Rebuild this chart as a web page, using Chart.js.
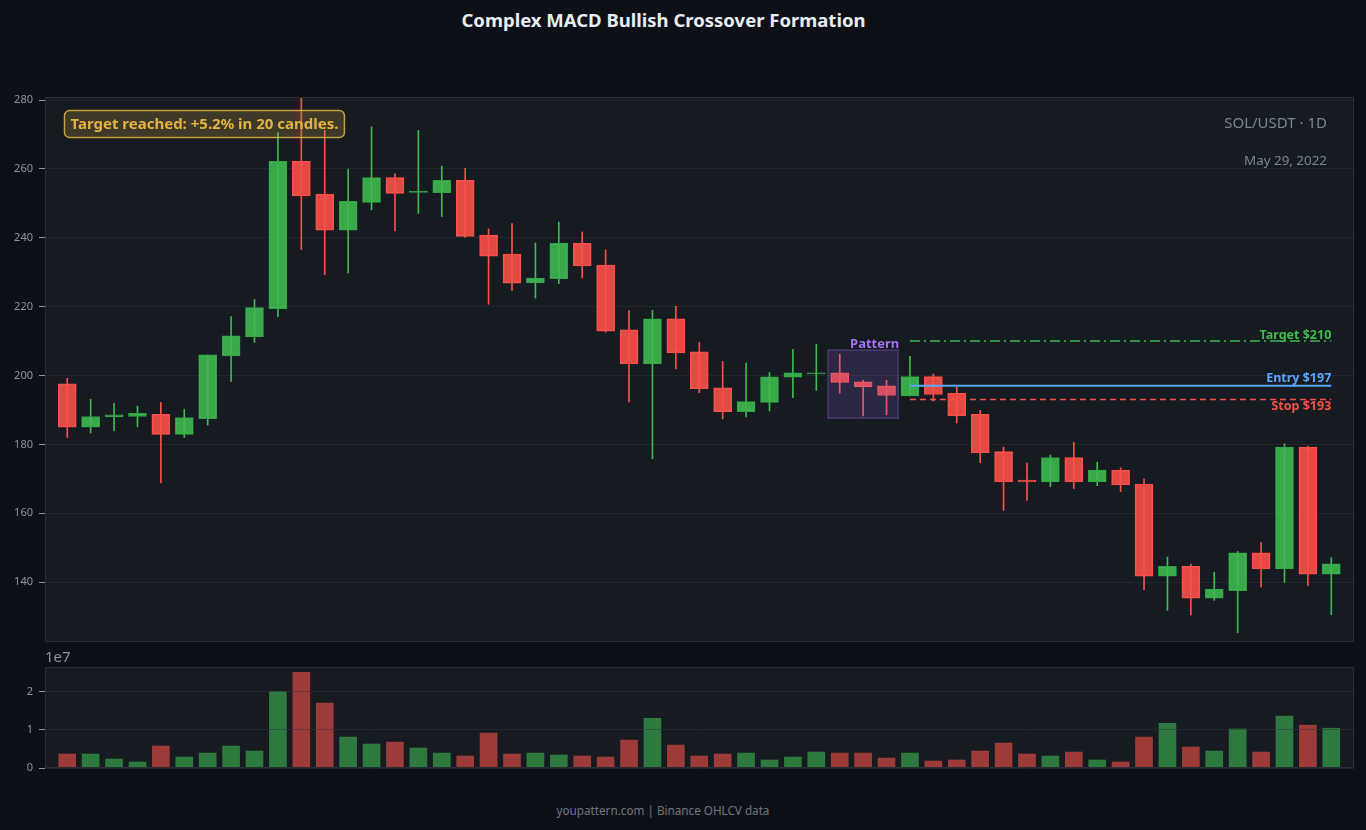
<!DOCTYPE html>
<html>
<head>
<meta charset="utf-8">
<script src="https://cdn.jsdelivr.net/npm/chart.js@4.4.1/dist/chart.umd.min.js"></script>
<style>
  html, body { margin: 0; padding: 0; background: #0d1117; width: 1366px; height: 830px; overflow: hidden; font-family: "Noto Sans", sans-serif; }
  #title { position: absolute; left: 0; width: 1327px; top: 7px; text-align: center; color: #e6edf3; font: bold 18.5px "Noto Sans", sans-serif; }
  #footer { position: absolute; left: 0; width: 1326px; top: 802px; text-align: center; color: #6e7681; font: 11.7px "Noto Sans", sans-serif; }
  #pc { position: absolute; left: 0; top: 0; }
  #vc { position: absolute; left: 0; top: 650px; }
</style>
</head>
<body>
<div id="title">Complex MACD Bullish Crossover Formation</div>
<canvas id="pc" width="1366" height="655"></canvas>
<canvas id="vc" width="1366" height="130"></canvas>
<div id="footer">youpattern.com | Binance OHLCV data</div>
<script>
// ---- Data ----
const opens  = [197.6,185.0,188.0,188.1,188.7,182.9,187.5,205.7,211.2,219.4,262.2,252.7,242.2,250.3,257.5,253.2,253.1,256.7,240.8,235.3,226.9,228.1,238.4,232.1,213.3,203.4,216.5,206.9,196.4,189.5,192.2,199.5,200.5,200.8,198.2,197.0,194.1,199.7,194.8,188.7,177.9,169.6,169.1,176.2,169.1,172.5,168.5,141.7,144.6,135.3,137.5,148.5,143.8,179.2,142.3];
const highs  = [199.2,193.1,191.9,191.1,192.2,190.2,206.0,217.1,222.1,270.6,281.5,271.2,260.0,272.2,258.6,271.2,260.8,260.2,242.6,244.1,238.5,244.6,241.7,236.5,218.9,218.9,220.1,209.6,204.1,203.6,200.9,207.6,209.1,206.2,198.6,198.6,205.6,200.4,196.6,189.9,179.2,174.6,176.9,180.6,174.8,173.2,169.9,147.3,145.2,142.9,148.9,151.5,180.2,179.5,147.1];
const lows   = [182.0,183.3,183.9,185.1,168.8,182.0,185.6,198.3,209.6,217.1,236.6,229.3,229.8,248.1,242.0,247.1,246.2,240.1,220.7,224.7,222.5,226.7,228.3,212.6,192.3,175.8,201.9,195.0,187.4,188.0,189.7,193.6,195.7,194.9,188.3,188.6,194.1,192.6,186.2,174.7,160.8,163.7,167.7,167.2,168.0,166.3,137.8,131.8,130.5,134.7,125.3,138.6,139.9,139.0,130.5];
const closes = [185.0,188.1,188.6,189.0,182.9,187.8,206.0,211.5,219.7,262.2,252.2,242.2,250.6,257.5,252.9,253.6,256.7,240.4,234.7,226.8,228.3,238.4,231.8,212.9,203.4,216.5,206.6,196.2,189.5,192.4,199.6,200.8,200.8,198.0,196.7,194.2,199.7,194.5,188.3,177.6,169.1,169.1,176.2,169.1,172.5,168.2,141.7,144.6,135.3,138.0,148.5,143.8,179.2,142.3,145.3];
const volumes = [3.65e6,3.65e6,2.35e6,1.57e6,5.74e6,2.87e6,3.91e6,5.74e6,4.43e6,20.0e6,25.0e6,16.96e6,8.09e6,6.26e6,6.78e6,5.22e6,3.91e6,3.13e6,9.13e6,3.65e6,3.91e6,3.39e6,3.13e6,2.87e6,7.3e6,13.0e6,6.0e6,3.13e6,3.65e6,3.91e6,2.09e6,2.87e6,4.17e6,3.91e6,3.91e6,2.6e6,3.91e6,1.83e6,2.09e6,4.43e6,6.52e6,3.65e6,3.13e6,4.17e6,2.09e6,1.57e6,8.09e6,11.7e6,5.48e6,4.43e6,10.2e6,4.17e6,13.6e6,11.2e6,10.4e6];
const priceTicks = [140,160,180,200,220,240,260,280];
const volumeTicks = [0,1e7,2e7];
const patternRange = { from: 33, to: 35, low: 187.6, high: 207.4 };
const tradeLevels = { start: 36, end: 54, target: 210, entry: 197, stop: 193 };
const levelLabels = { target: "Target $210", entry: "Entry $197", stop: "Stop $193" };
const infoText = "Target reached: +5.2% in 20 candles.";
const symbolText = "SOL/USDT \u00b7 1D";
const dateText = "May 29, 2022";

// ---- Styling ----
const GREEN = "#3fb950", RED = "#f85149";
const up = opens.map((o, i) => closes[i] >= o);
const XMIN = -0.95, XMAX = 54.97;
const FONT = '"Noto Sans", sans-serif';

const areaPlugin = {
  id: "area",
  beforeDraw(chart) {
    const { ctx, chartArea: a } = chart;
    ctx.save();
    ctx.fillStyle = "#161b22";
    ctx.fillRect(a.left, a.top, a.right - a.left, a.bottom - a.top);
    ctx.restore();
  },
  afterDraw(chart) {
    const { ctx, chartArea: a } = chart;
    ctx.save();
    ctx.strokeStyle = "#2a2f37";
    ctx.lineWidth = 1;
    ctx.strokeRect(a.left + 0.5, a.top + 0.5, a.right - a.left - 1, a.bottom - a.top - 1);
    ctx.restore();
  }
};

const annotPlugin = {
  id: "annot",
  afterDatasetsDraw(chart) {
    const { ctx, scales: { x, y } } = chart;
    ctx.save();
    // pattern box
    const bx0 = x.getPixelForValue(patternRange.from - 0.5), bx1 = x.getPixelForValue(patternRange.to + 0.5);
    const by0 = y.getPixelForValue(patternRange.high), by1 = y.getPixelForValue(patternRange.low);
    ctx.fillStyle = "rgba(163,113,247,0.16)";
    ctx.fillRect(bx0, by0, bx1 - bx0, by1 - by0);
    ctx.strokeStyle = "rgba(163,113,247,0.3)";
    ctx.lineWidth = 1.5;
    ctx.strokeRect(bx0, by0, bx1 - bx0, by1 - by0);
    ctx.fillStyle = "#a371f7";
    ctx.font = "bold 13px " + FONT;
    ctx.textAlign = "right";
    ctx.textBaseline = "alphabetic";
    ctx.fillText("Pattern", bx1 + 1, by0 - 2);

    // trade levels
    const lx0 = x.getPixelForValue(tradeLevels.start), lx1 = x.getPixelForValue(tradeLevels.end);
    const line = (val, color, width, dash) => {
      const py = y.getPixelForValue(val);
      ctx.beginPath();
      ctx.setLineDash(dash);
      ctx.strokeStyle = color;
      ctx.lineWidth = width;
      ctx.moveTo(lx0, py); ctx.lineTo(lx1, py);
      ctx.stroke();
      ctx.setLineDash([]);
      return py;
    };
    const ty = line(tradeLevels.target, GREEN, 1.5, [10, 4, 2, 4]);
    const ey = line(tradeLevels.entry, "#58a6ff", 2, []);
    const sy = line(tradeLevels.stop, RED, 1.5, [6, 4]);
    ctx.font = "bold 12.5px " + FONT;
    ctx.textAlign = "right";
    ctx.textBaseline = "alphabetic";
    ctx.fillStyle = GREEN; ctx.fillText(levelLabels.target, lx1, ty - 2);
    ctx.fillStyle = "#58a6ff"; ctx.fillText(levelLabels.entry, lx1, ey - 4);
    ctx.fillStyle = RED; ctx.fillText(levelLabels.stop, lx1, sy + 10);

    // info box
    ctx.font = "bold 15px " + FONT;
    const tw = ctx.measureText(infoText).width;
    const boxX = 64, boxY = 110, boxW = tw + 12, boxH = 27;
    ctx.beginPath();
    ctx.roundRect(boxX + 0.5, boxY + 0.5, boxW, boxH, 5);
    ctx.fillStyle = "rgba(227,179,65,0.2)";
    ctx.fill();
    ctx.strokeStyle = "rgba(227,179,65,0.85)";
    ctx.lineWidth = 1.5;
    ctx.stroke();
    ctx.fillStyle = "#e3b341";
    ctx.textAlign = "left";
    ctx.textBaseline = "middle";
    ctx.fillText(infoText, boxX + 6.5, boxY + boxH / 2 + 1);

    // symbol / date
    ctx.fillStyle = "#7d8590";
    ctx.textAlign = "right";
    ctx.font = "15px " + FONT;
    ctx.fillText(symbolText, 1327, 124);
    ctx.font = "13.4px " + FONT;
    ctx.fillText(dateText, 1327, 161);
    ctx.restore();
  }
};

const fixY = (scale) => { scale.width = 45; scale.paddingTop = 0; scale.paddingBottom = 0; };

new Chart(document.getElementById("pc"), {
  type: "bar",
  data: {
    datasets: [
      {
        label: "wick",
        data: lows.map((l, i) => ({ x: i, y: [l, highs[i]] })),
        backgroundColor: up.map(u => u ? GREEN : RED),
        borderWidth: 0,
        barThickness: 1,
        grouped: false,
        order: 2
      },
      {
        label: "body",
        data: opens.map((o, i) => ({ x: i, y: [o, closes[i]] })),
        backgroundColor: up.map(u => u ? "rgba(63,185,80,0.9)" : "rgba(248,81,73,0.9)"),
        borderColor: up.map(u => u ? "#2ea043" : "#f85149"),
        borderWidth: 1,
        borderSkipped: false,
        barThickness: 18,
        grouped: false,
        order: 1
      }
    ]
  },
  options: {
    responsive: false,
    animation: false,
    layout: { padding: { top: 97, bottom: 13, left: 0, right: 12 } },
    plugins: { legend: { display: false }, tooltip: { enabled: false }, title: { display: false } },
    scales: {
      x: { type: "linear", min: XMIN, max: XMAX, offset: false, display: false },
      y: {
        min: 122.6, max: 280.9,
        afterFit: fixY,
        afterBuildTicks: (s) => { s.ticks = priceTicks.map(v => ({ value: v })); },
        grid: { color: "rgba(48,54,61,0.45)", tickColor: "#8b949e", tickLength: 6, drawTicks: true },
        border: { display: false },
        ticks: { color: "#8b949e", font: { family: FONT, size: 11 }, padding: 6 }
      }
    }
  },
  plugins: [areaPlugin, annotPlugin]
});

const volPlugin = {
  id: "vol",
  afterDraw(chart) {
    const { ctx, chartArea: a } = chart;
    ctx.save();
    ctx.fillStyle = "#8b949e";
    ctx.font = "15px " + FONT;
    ctx.textAlign = "left";
    ctx.textBaseline = "alphabetic";
    ctx.fillText("1e7", a.left, a.top - 5);
    ctx.restore();
  }
};

new Chart(document.getElementById("vc"), {
  type: "bar",
  data: {
    datasets: [{
      label: "volume",
      data: volumes.map((v, i) => ({ x: i, y: v })),
      backgroundColor: up.map(u => u ? "rgba(63,185,80,0.6)" : "rgba(248,81,73,0.6)"),
      borderWidth: 0,
      barThickness: 17
    }]
  },
  options: {
    responsive: false,
    animation: false,
    layout: { padding: { top: 17, bottom: 12, left: 0, right: 12 } },
    plugins: { legend: { display: false }, tooltip: { enabled: false } },
    scales: {
      x: { type: "linear", min: XMIN, max: XMAX, offset: false, display: false },
      y: {
        min: 0, max: 2.64e7,
        afterFit: fixY,
        afterBuildTicks: (s) => { s.ticks = volumeTicks.map(v => ({ value: v })); },
        grid: { color: "rgba(48,54,61,0.5)", tickColor: "#8b949e", tickLength: 6, z: 1 },
        border: { display: false },
        ticks: { color: "#8b949e", font: { family: FONT, size: 11 }, padding: 6, callback: (v) => String(v / 1e7) }
      }
    }
  },
  plugins: [areaPlugin, volPlugin]
});
</script>
</body>
</html>
